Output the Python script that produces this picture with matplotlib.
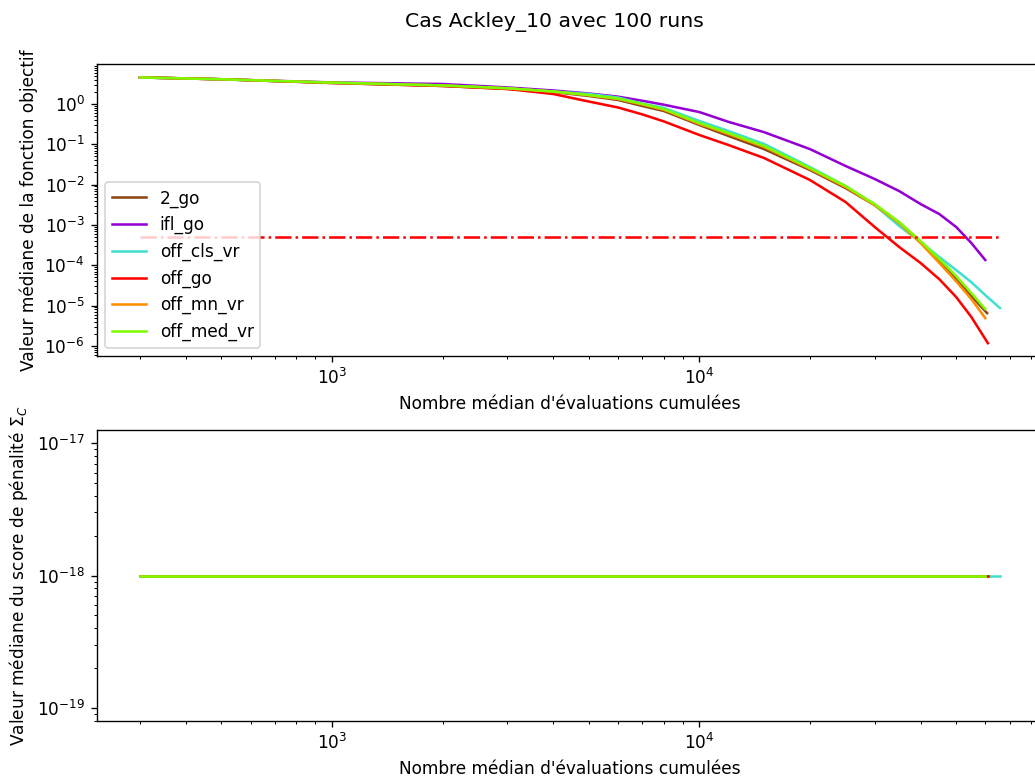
import numpy as np
import matplotlib
matplotlib.use('Agg')
from matplotlib import pyplot as plt


# Median cumulated evaluations (shared grid) and median objective values
evals = [300, 500, 1000, 2000, 3000, 4000, 5000, 6000, 7000, 8000, 10000,
         12000, 15000, 20000, 25000, 30000, 35000, 40000, 45000, 50000, 55000]

evals_2_go = evals + [60700]
obj_2_go = [4.6, 4.1, 3.32, 2.80, 2.36, 1.98, 1.58, 1.26, 0.89, 0.67, 0.301,
            0.161, 0.076, 0.023, 0.0082, 0.0031, 0.00111, 3.77e-4, 1.27e-4,
            4.5e-5, 1.72e-5, 6.5e-6]

evals_ifl_go = evals + [60000]
obj_ifl_go = [4.55, 4.1, 3.42, 3.13, 2.57, 2.16, 1.82, 1.52, 1.2, 0.96, 0.63,
              0.36, 0.2, 0.076, 0.029, 0.0138, 0.0069, 0.0033, 0.00186,
              8.9e-4, 3.56e-4, 1.35e-4]

evals_off_cls_vr = evals + [60000, 65800]
obj_off_cls_vr = [4.55, 4.1, 3.38, 2.88, 2.42, 2.04, 1.77, 1.45, 1.02, 0.80,
                  0.379, 0.214, 0.102, 0.0273, 0.0092, 0.0031, 9.4e-4, 3.77e-4,
                  1.6e-4, 7.6e-5, 3.8e-5, 1.82e-5, 8.7e-6]

evals_off_go = evals + [61000]
obj_off_go = [4.55, 4.1, 3.32, 2.80, 2.36, 1.77, 1.15, 0.82, 0.55, 0.37, 0.170,
              0.096, 0.0457, 0.013, 0.0037, 8.9e-4, 2.83e-4, 1.14e-4, 4.5e-5,
              1.63e-5, 5.2e-6, 1.17e-6]

evals_off_mn_vr = evals + [60000]
obj_off_mn_vr = [4.55, 4.1, 3.38, 2.88, 2.44, 2.02, 1.64, 1.33, 0.97, 0.72,
                 0.32, 0.18, 0.086, 0.0245, 0.0087, 0.0031, 0.00111, 3.56e-4,
                 1.14e-4, 4.0e-5, 1.45e-5, 4.9e-6]

evals_off_med_vr = evals + [60000]
obj_off_med_vr = [4.55, 4.1, 3.38, 2.88, 2.46, 2.04, 1.67, 1.37, 1.0, 0.75,
                  0.338, 0.191, 0.091, 0.0258, 0.0092, 0.0033, 0.00118, 3.98e-4,
                  1.43e-4, 5.4e-5, 2.04e-5, 8.2e-6]

# Median penalty score (constant for every variant)
penalty = 1e-18

# Target value of the objective
target = 5e-4

names = ['2_go', 'ifl_go', 'off_cls_vr', 'off_go', 'off_mn_vr', 'off_med_vr']
colors = ['saddlebrown', 'darkviolet', 'turquoise', 'red', 'darkorange', 'lawngreen']
series_x = [evals_2_go, evals_ifl_go, evals_off_cls_vr, evals_off_go,
            evals_off_mn_vr, evals_off_med_vr]
series_y = [obj_2_go, obj_ifl_go, obj_off_cls_vr, obj_off_go,
            obj_off_mn_vr, obj_off_med_vr]

DPI = 122
fig = plt.figure(figsize=(1035 / DPI, 780 / DPI), dpi=DPI)
fig.suptitle('Cas Ackley_10 avec 100 runs', x=0.536, y=0.985)

ax1 = fig.add_axes([0.0937, 0.543, 0.914, 0.375])
ax2 = fig.add_axes([0.0937, 0.0753, 0.914, 0.3735])

for name, c, xs, ys in zip(names, colors, series_x, series_y):
    ax1.plot(xs, ys, color=c, label=name)
    ax2.plot(xs, np.full(len(xs), penalty), color=c, label=name)

xmin = min(min(xs) for xs in series_x)
xmax = max(max(xs) for xs in series_x)
ax1.plot([xmin, xmax], [target, target], 'r-.')

ax1.set_xscale('log')
ax1.set_yscale('log')
ax1.set_xlabel("Nombre médian d'évaluations cumulées")
ax1.set_ylabel('Valeur médiane de la fonction objectif')
ax1.legend(loc='lower left')

ax2.set_xscale('log')
ax2.set_yscale('log')
ax2.set_xlabel("Nombre médian d'évaluations cumulées")
ax2.set_ylabel(r'Valeur médiane du score de pénalité $\Sigma_C$')

fig.savefig('out.png', dpi=DPI)
